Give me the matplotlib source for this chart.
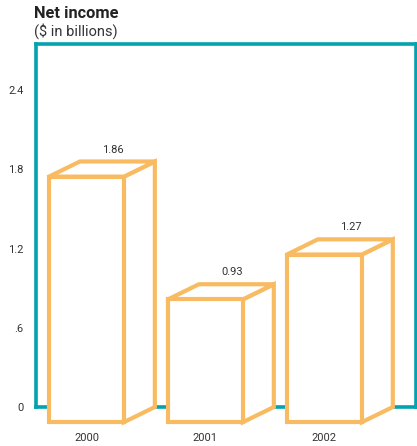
import matplotlib
matplotlib.use("Agg")
from matplotlib import pyplot as plt
from matplotlib.patches import Polygon

years = ["2000", "2001", "2002"]
income = [1.86, 0.93, 1.27]
yticks = [0, 0.6, 1.2, 1.8, 2.4]
ytick_labels = ["0", ".6", "1.2", "1.8", "2.4"]

teal = "#00A3AF"
orange = "#F9BB62"
text_col = "#333333"

plt.rcParams["font.family"] = ["Roboto", "DejaVu Sans"]

W, H = 417, 446
fig = plt.figure(figsize=(W / 100, H / 100), dpi=100)
ax = fig.add_axes([36 / W, (H - 407) / H, 380 / W, (407 - 44) / H])

ax.set_xlim(-0.424, 2.77)
ax.set_ylim(0, 2.75)

# 3d box: front face shifted down/left, back face sits on the values
w = 0.315
dx, dy = 0.26, 0.115
for i, v in enumerate(income):
    x0, x1 = i - w, i + w
    front = [(x0, -dy), (x1, -dy), (x1, v - dy), (x0, v - dy)]
    top = [(x0, v - dy), (x1, v - dy), (x1 + dx, v), (x0 + dx, v)]
    side = [(x1, -dy), (x1 + dx, 0), (x1 + dx, v), (x1, v - dy)]
    for pts in (side, top, front):
        ax.add_patch(Polygon(pts, closed=True, facecolor="white", edgecolor=orange,
                             linewidth=3, joinstyle="miter", zorder=3, clip_on=False))
    ax.text(i + dx * 0.85, v + 0.09, f"{v:.2f}", ha="center", va="center",
            fontsize=8, color=text_col)
    ax.text(i, -0.235, years[i], ha="center", va="center", fontsize=8, color=text_col)

for s in ax.spines.values():
    s.set_color(teal)
    s.set_linewidth(2.6)

ax.set_xticks([])
ax.set_yticks(yticks)
ax.set_yticklabels(ytick_labels, fontsize=8, color=text_col)
ax.tick_params(axis="y", length=0, pad=9)

fig.text(34 / W, 1 - 13 / H, "Net income", fontsize=11.8, fontweight="bold",
         color="#222222", va="center", ha="left")
fig.text(34 / W, 1 - 31 / H, "($ in billions)", fontsize=10.5,
         color=text_col, va="center", ha="left")

fig.savefig("out.png", dpi=100)
